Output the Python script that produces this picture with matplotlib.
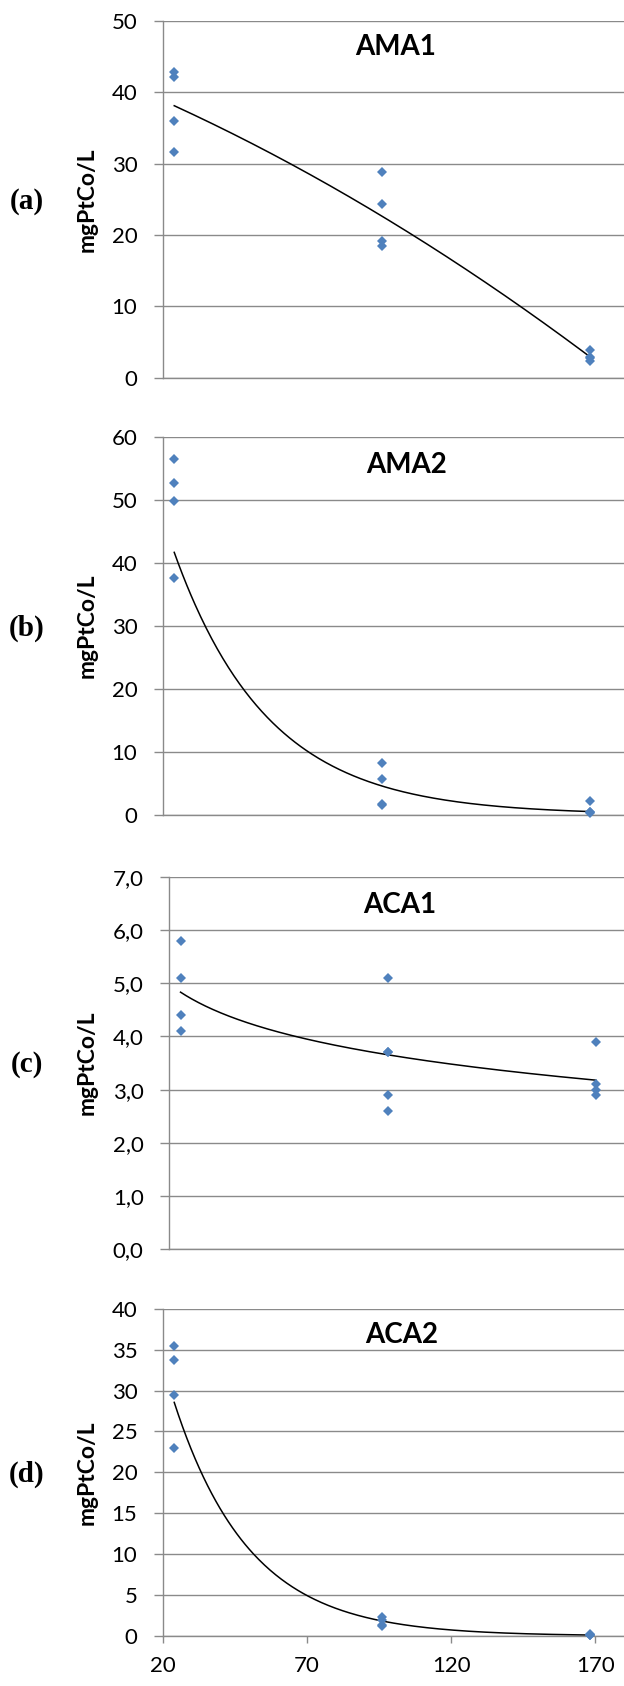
import numpy as np
import matplotlib
matplotlib.use("Agg")
import matplotlib.pyplot as plt

# sampling times (h) and colour readings (mgPtCo/L) for each reactor
ama1_x = [24, 24, 24, 24, 96, 96, 96, 96, 168, 168, 168, 168]
ama1_y = [42.8, 42.1, 36.0, 31.6, 28.8, 24.3, 19.1, 18.4, 3.9, 2.9, 2.7, 2.4]

ama2_x = [24, 24, 24, 24, 96, 96, 96, 96, 168, 168, 168, 168]
ama2_y = [56.6, 52.8, 49.8, 37.6, 8.2, 5.7, 1.7, 1.6, 2.2, 0.5, 0.35, 0.3]

aca1_x = [24, 24, 24, 24, 96, 96, 96, 96, 96, 168, 168, 168, 168]
aca1_y = [5.8, 5.1, 4.4, 4.1, 5.1, 3.7, 3.7, 2.9, 2.6, 3.9, 3.1, 3.0, 2.9]

aca2_x = [24, 24, 24, 24, 96, 96, 96, 96, 168, 168, 168, 168]
aca2_y = [35.5, 33.7, 29.4, 23.0, 2.3, 2.0, 1.4, 1.2, 0.2, 0.15, 0.1, 0.08]

titles = ["AMA1", "AMA2", "ACA1", "ACA2"]
letters = ["(a)", "(b)", "(c)", "(d)"]
trend_kinds = ["poly2", "exp", "log", "exp"]
y_max = [50, 60, 7, 40]
y_step = [10, 10, 1, 5]
x_ticks = [20, 70, 120, 170]

W, H = 624, 1686
fig = plt.figure(figsize=(W / 100, H / 100), dpi=100)

# plot-area boxes in pixels: left, top, bottom ; title centre x, title baseline y
boxes = [(162.7, 21.0, 377.7), (162.7, 437.3, 814.7),
         (169.0, 876.7, 1249.3), (162.7, 1308.7, 1636.0)]
title_pos = [(396, 55), (407, 473), (400, 913), (402, 1343)]
px_per_unit = 2.884
grid_col = "#8a8a8a"
blue = "#4F81BD"

datasets = [(ama1_x, ama1_y), (ama2_x, ama2_y), (aca1_x, aca1_y), (aca2_x, aca2_y)]


def trend(x, y, kind):
    x = np.asarray(x, float)
    y = np.asarray(y, float)
    xs = np.linspace(x.min(), x.max(), 300)
    if kind == "poly2":
        return xs, np.polyval(np.polyfit(x, y, 2), xs)
    if kind == "exp":
        b, a = np.polyfit(x, np.log(y), 1)
        return xs, np.exp(a + b * xs)
    b, a = np.polyfit(np.log(x), y, 1)
    return xs, a + b * np.log(xs)


for i, ((left, top, bottom), (x, y)) in enumerate(zip(boxes, datasets)):
    width = 160 * px_per_unit
    ax = fig.add_axes([left / W, 1 - bottom / H, width / W, (bottom - top) / H])
    ax.set_xlim(20, 180)
    ax.set_ylim(0, y_max[i])
    yt = np.arange(0, y_max[i] + y_step[i] / 2, y_step[i])
    ax.set_yticks(yt)
    if i == 2:
        ax.set_yticklabels([f"{v:.1f}".replace(".", ",") for v in yt])
    else:
        ax.set_yticklabels([f"{v:g}" for v in yt])

    ax.set_axisbelow(True)
    ax.yaxis.grid(True, color=grid_col, lw=1.0)
    for s in ["top", "right"]:
        ax.spines[s].set_visible(False)
    for s in ["left", "bottom"]:
        ax.spines[s].set_color(grid_col)
        ax.spines[s].set_linewidth(1.0)

    ax.tick_params(axis="y", direction="out", length=6.7, width=1.0, color=grid_col,
                   pad=11.5, labelsize=16, labelcolor="black")
    for lab in ax.get_yticklabels():
        lab.set_family("Lato")

    if i == 3:
        ax.set_xticks(x_ticks)
        ax.tick_params(axis="x", direction="out", length=5.2, width=1.0, color=grid_col,
                       pad=9.5, labelsize=16, labelcolor="black")
        for lab in ax.get_xticklabels():
            lab.set_family("Lato")
    else:
        ax.set_xticks([])

    ax.plot(x, y, linestyle="none", marker="D", ms=5.2, color=blue,
            markeredgewidth=0, clip_on=False, zorder=3)
    xs, ys = trend(x, y, trend_kinds[i])
    ax.plot(xs, ys, color="black", lw=1.1, zorder=2, clip_on=False)

    tx, ty = title_pos[i]
    fig.text(tx / W, 1 - ty / H, titles[i], ha="center", va="baseline",
             fontsize=20, fontweight="bold", family="Lato")

    yc = (top + bottom) / 2
    fig.text(87.5 / W, 1 - yc / H, "mgPtCo/L", rotation=90, ha="center", va="center",
             fontsize=16.5, fontweight="bold", family="Lato")
    fig.text(26.7 / W, 1 - (yc + 2) / H, letters[i], ha="center", va="center",
             fontsize=21, fontweight="bold", family="Liberation Serif")

fig.savefig("out.png", dpi=100)
